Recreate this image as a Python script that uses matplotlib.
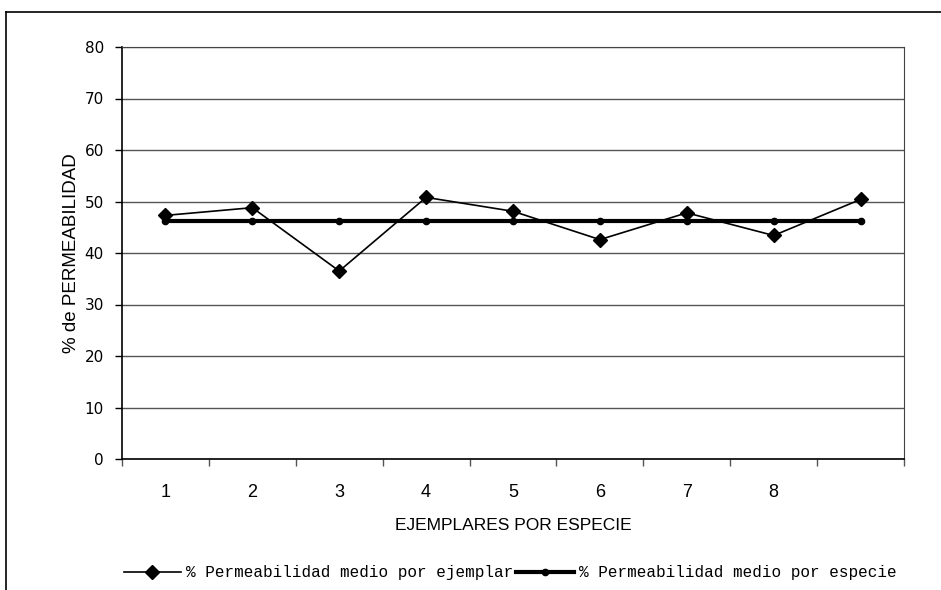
import numpy as np
import matplotlib.pyplot as plt
from matplotlib.lines import Line2D

# data
categorias = ['1', '2', '3', '4', '5', '6', '7', '8', '']
perm_ejemplar = [47.3, 48.8, 36.5, 50.8, 48.1, 42.6, 47.8, 43.4, 50.4]
perm_especie = [46.3] * 9

fig = plt.figure(figsize=(9.41, 5.90), dpi=100)
ax = fig.add_axes([122 / 941, 1 - 459 / 590, (904 - 122) / 941, (459 - 47) / 590])

x = np.arange(len(categorias))
ax.plot(x, perm_ejemplar, color='black', lw=1.2, marker='D', ms=7,
        label='% Permeabilidad medio por ejemplar', zorder=3)
ax.plot(x, perm_especie, color='black', lw=3, marker='o', ms=4.5,
        label='% Permeabilidad medio por especie', zorder=4)

ax.set_xlim(-0.5, len(categorias) - 0.5)
ax.set_ylim(0, 80)
ax.set_yticks(np.arange(0, 81, 10))
ax.set_xticks(x)
ax.set_xticklabels(categorias, fontsize=13, family='Liberation Sans')
ax.set_xticks(np.arange(-0.5, len(categorias)), minor=True)
ax.tick_params(axis='x', which='major', length=0, pad=18)
ax.tick_params(axis='x', which='minor', length=5, width=1, color='#555555', direction='out')
ax.tick_params(axis='y', length=5, width=1, direction='out', labelsize=11, pad=8)
for lab in ax.get_yticklabels():
    lab.set_family('Liberation Sans Narrow')

ax.grid(axis='y', color='#555555', lw=1)
ax.set_axisbelow(True)
for s in ['top', 'right']:
    ax.spines[s].set_color('#444444')
for s in ['left', 'bottom']:
    ax.spines[s].set_color('black')
    ax.spines[s].set_linewidth(1.2)

ax.set_ylabel('% de PERMEABILIDAD', fontsize=13.5, family='Liberation Sans', labelpad=3)
ax.set_xlabel('EJEMPLARES POR ESPECIE', fontsize=12.5, family='Liberation Sans', labelpad=12)

leg = fig.legend(loc='center', bbox_to_anchor=(510 / 941, 1 - 573 / 590), ncol=2,
                 frameon=False, handlelength=3.6, columnspacing=0.2, handletextpad=0.3,
                 prop={'family': 'Liberation Mono', 'size': 11.5})

# outer chart frame
fig.add_artist(Line2D([6 / 941, 6 / 941], [0, 1 - 12 / 590], color='black', lw=1.2))
fig.add_artist(Line2D([6 / 941, 1], [1 - 12 / 590, 1 - 12 / 590], color='black', lw=1.2))

fig.savefig('out.png', dpi=100)
